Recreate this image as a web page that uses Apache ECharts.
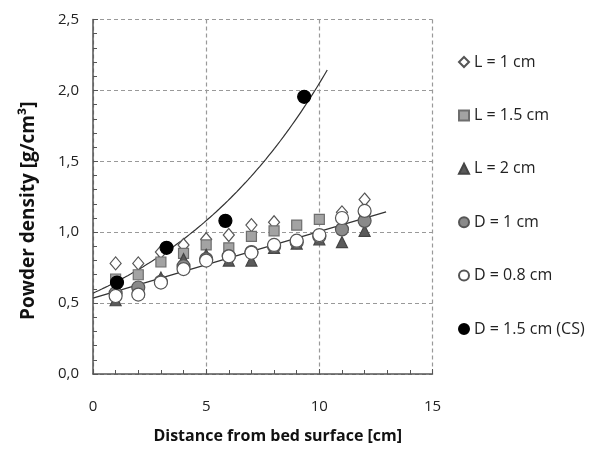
<!DOCTYPE html>
<html>
<head>
<meta charset="utf-8">
<script src="https://cdn.jsdelivr.net/npm/echarts@6/dist/echarts.min.js"></script>
<style>
  html, body { margin: 0; padding: 0; background: #fff; }
  #chart { width: 590px; height: 449px; }
</style>
</head>
<body>
<div id="chart"></div>
<script>
// Powder density measured at several distances from the bed surface
const seriesNames = ['L = 1 cm', 'L = 1.5 cm', 'L = 2 cm', 'D = 1 cm', 'D = 0.8 cm', 'D = 1.5 cm (CS)'];

const lOne = [[1, 0.78], [2, 0.78], [3, 0.86], [4, 0.91], [5, 0.95], [6, 0.98], [7, 1.05], [8, 1.07], [11, 1.14], [12, 1.23]];
const lOneHalf = [[1, 0.67], [2, 0.70], [3, 0.79], [4, 0.85], [5, 0.91], [6, 0.89], [7, 0.97], [8, 1.01], [9, 1.05], [10, 1.09], [12, 1.09]];
const lTwo = [[1, 0.52], [2, 0.58], [3, 0.68], [4, 0.81], [5, 0.84], [6, 0.80], [7, 0.80], [8, 0.89], [9, 0.92], [10, 0.95], [11, 0.93], [12, 1.01]];
const dOne = [[1, 0.57], [2, 0.61], [3, 0.65], [4, 0.76], [5, 0.81], [6, 0.83], [7, 0.86], [8, 0.90], [9, 0.93], [10, 0.97], [11, 1.02], [12, 1.08]];
const dZeroEight = [[1, 0.55], [2, 0.56], [3, 0.645], [4, 0.74], [5, 0.80], [6, 0.83], [7, 0.855], [8, 0.91], [9, 0.94], [10, 0.98], [11, 1.10], [12, 1.15]];
const dOneHalfCS = [[1.06, 0.645], [3.25, 0.89], [5.85, 1.08], [9.33, 1.955]];

// Fitted trend lines: linear through the packed-bed data, exponential through the CS data
const linearFit = { intercept: 0.535, slope: 0.047, xEnd: 12.95 };
const expFit = { a: 0.57, b: 0.128, xEnd: 10.35 };

const xTicks = [0, 5, 10, 15];
const yTicks = [0, 0.5, 1.0, 1.5, 2.0, 2.5];

function sampleCurve(fn, x0, x1, n) {
  const pts = [];
  for (let i = 0; i <= n; i++) {
    const x = x0 + (x1 - x0) * i / n;
    pts.push([x, fn(x)]);
  }
  return pts;
}
const linearLine = sampleCurve(x => linearFit.intercept + linearFit.slope * x, 0, linearFit.xEnd, 2);
const expLine = sampleCurve(x => expFit.a * Math.exp(expFit.b * x), 0, expFit.xEnd, 80);

const FONT = '"Open Sans", "Liberation Sans", sans-serif';

function scatter(name, data, symbol, size, fill, border, z) {
  return {
    name: name, type: 'scatter', data: data, symbol: symbol, symbolSize: size, z: z,
    itemStyle: { color: fill, borderColor: border, borderWidth: 1.2, opacity: 1 },
    emphasis: { disabled: true }
  };
}

const chart = echarts.init(document.getElementById('chart'), null, { renderer: 'canvas' });
chart.setOption({
  animation: false,
  backgroundColor: '#ffffff',
  textStyle: { fontFamily: FONT },
  grid: { left: 93, right: 157.5, top: 19.5, bottom: 73, containLabel: false },
  legend: {
    orient: 'vertical',
    left: 453,
    top: 49,
    itemWidth: 10,
    itemHeight: 10,
    itemGap: 37.4,
    data: seriesNames,
    textStyle: { fontFamily: FONT, fontSize: 16, color: '#222', padding: [0, 0, 0, 0] },
    selectedMode: false
  },
  xAxis: {
    type: 'value', min: 0, max: 15, interval: 5,
    axisLine: { show: true, lineStyle: { color: '#555', width: 1.5 } },
    axisTick: { show: true, inside: true, length: 5, lineStyle: { color: '#555' } },
    minorTick: { show: true, splitNumber: 5, length: 4, lineStyle: { color: '#555' } },
    splitLine: { show: true, lineStyle: { color: '#999', type: [4, 3], width: 1.2 } },
    axisLabel: { color: '#222', fontSize: 15, fontFamily: FONT, margin: 25,
      formatter: v => (xTicks.indexOf(v) >= 0 ? String(v) : '') },
    name: 'Distance from bed surface [cm]',
    nameLocation: 'middle', nameGap: 54,
    nameTextStyle: { color: '#111', fontSize: 16, fontWeight: 'bold', fontFamily: FONT, padding: [0, 0, 0, 30] }
  },
  yAxis: {
    type: 'value', min: 0, max: 2.5, interval: 0.5,
    axisLine: { show: true, lineStyle: { color: '#555', width: 1.5 } },
    axisTick: { show: true, inside: true, length: 5, lineStyle: { color: '#555' } },
    minorTick: { show: true, splitNumber: 5, length: 4, lineStyle: { color: '#555' } },
    splitLine: { show: true, lineStyle: { color: '#999', type: [4, 3], width: 1.2 } },
    axisLabel: { color: '#222', fontSize: 15, fontFamily: FONT, margin: 14,
      formatter: v => (yTicks.some(t => Math.abs(t - v) < 1e-9) ? v.toFixed(1).replace('.', ',') : '') },
    name: 'Powder density [g/cm³]',
    nameLocation: 'middle', nameGap: 55, nameRotate: 90,
    nameTextStyle: { color: '#111', fontSize: 19, fontWeight: 'bold', fontFamily: FONT, padding: [0, 28, 0, 0] }
  },
  series: [
    {
      name: 'linear fit', type: 'line', data: linearLine, showSymbol: false, symbol: 'none', z: 1,
      lineStyle: { color: '#333', width: 1.3 }, emphasis: { disabled: true }
    },
    {
      name: 'exponential fit', type: 'line', data: expLine, showSymbol: false, symbol: 'none', smooth: false, z: 1,
      lineStyle: { color: '#333', width: 1.2 }, emphasis: { disabled: true }
    },
    scatter(seriesNames[0], lOne, 'diamond', [11, 13], '#ffffff', '#555555', 2),
    scatter(seriesNames[1], lOneHalf, 'rect', 10, '#a3a3a3', '#6e6e6e', 3),
    scatter(seriesNames[2], lTwo, 'triangle', 11, '#5a5a5a', '#444444', 4),
    scatter(seriesNames[3], dOne, 'circle', 13, '#8a8a8a', '#555555', 5),
    scatter(seriesNames[4], dZeroEight, 'circle', 13, '#ffffff', '#555555', 6),
    scatter(seriesNames[5], dOneHalfCS, 'circle', 13, '#000000', '#000000', 7)
  ]
});
</script>
</body>
</html>
